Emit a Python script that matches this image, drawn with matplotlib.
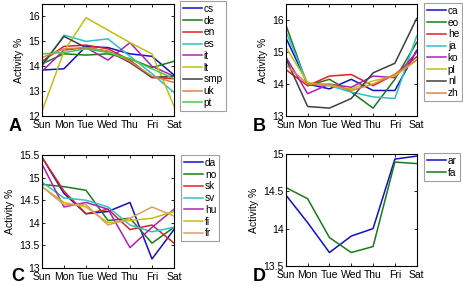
import matplotlib
matplotlib.use("Agg")
import matplotlib.pyplot as plt

plt.rcParams['font.family'] = ['Liberation Sans', 'DejaVu Sans']

days = ["Sun", "Mon", "Tue", "Wed", "Thu", "Fri", "Sat"]

# Panel A
a_labels = ["cs", "de", "en", "es", "it", "lt", "smp", "uk", "pt"]
a_cs = [13.85, 13.9, 14.8, 14.75, 14.5, 14.4, 13.65]
a_de = [14.1, 14.5, 14.45, 14.5, 14.3, 13.95, 14.2]
a_en = [14.2, 14.8, 14.85, 14.7, 14.25, 13.55, 13.5]
a_es = [14.0, 15.25, 15.0, 15.1, 14.4, 13.7, 12.95]
a_it = [13.8, 14.65, 14.75, 14.25, 14.95, 14.0, 13.6]
a_lt = [12.2, 14.6, 15.95, 15.45, 14.95, 14.5, 12.4]
a_smp = [14.05, 15.2, 14.75, 14.6, 14.15, 13.55, 13.6]
a_uk = [14.35, 14.7, 14.75, 14.6, 14.2, 13.6, 13.35]
a_pt = [14.5, 14.55, 14.7, 14.55, 14.3, 13.9, 13.5]

# Panel B
b_labels = ["ca", "eo", "he", "ja", "ko", "pl", "nl", "zh"]
b_ca = [15.45, 14.0, 13.85, 14.15, 13.8, 13.8, 15.05]
b_eo = [15.85, 13.95, 14.15, 13.75, 13.25, 14.15, 15.3]
b_he = [14.45, 13.95, 14.25, 14.3, 13.95, 14.3, 14.85]
b_ja = [15.65, 14.0, 13.95, 13.75, 13.6, 13.55, 15.5]
b_ko = [14.85, 13.7, 14.0, 13.9, 14.25, 14.2, 15.0]
b_pl = [15.15, 14.05, 13.95, 13.85, 14.1, 14.25, 14.75]
b_nl = [14.8, 13.3, 13.25, 13.55, 14.35, 14.65, 16.05]
b_zh = [14.6, 14.0, 14.0, 13.8, 14.0, 14.3, 14.75]

# Panel C
c_labels = ["da", "no", "sk", "sv", "hu", "fi", "fr"]
c_da = [15.45, 14.65, 14.2, 14.25, 14.45, 13.2, 13.85]
c_no = [14.85, 14.8, 14.72, 14.05, 14.1, 13.55, 13.9]
c_sk = [15.45, 14.7, 14.2, 14.3, 13.85, 13.95, 13.55]
c_sv = [14.9, 14.55, 14.5, 14.35, 13.95, 13.8, 13.9]
c_hu = [15.3, 14.35, 14.45, 14.3, 13.45, 13.9, 14.3]
c_fi = [14.8, 14.45, 14.35, 14.0, 14.05, 14.1, 14.25]
c_fr = [14.8, 14.4, 14.4, 13.95, 14.1, 14.35, 14.15]

# Panel D
d_labels = ["ar", "fa"]
d_ar = [14.45, 14.08, 13.68, 13.9, 14.0, 14.93, 14.97]
d_fa = [14.55, 14.4, 13.88, 13.68, 13.76, 14.89, 14.87]

blue = "#1010c8"
green = "#1a7a1a"
red = "#e02020"
cyan = "#30c0c8"
magenta = "#b020b8"
yellow = "#c0c010"
dark = "#404040"
orange = "#e08040"
lgreen = "#40d040"
tan = "#d8a060"

panels = [
    dict(pos=[0.0905, 0.594, 0.2845, 0.392], series=[a_cs, a_de, a_en, a_es, a_it, a_lt, a_smp, a_uk, a_pt],
         labels=a_labels, colors=[blue, green, red, cyan, magenta, yellow, dark, orange, lgreen],
         ylim=(12, 16.5), yticks=[12, 13, 14, 15, 16], leg=(180/464, 1 - 1/286), letter="A", lpos=(9, 131)),
    dict(pos=[0.616, 0.594, 0.282, 0.392], series=[b_ca, b_eo, b_he, b_ja, b_ko, b_pl, b_nl, b_zh],
         labels=b_labels, colors=[blue, green, red, cyan, magenta, yellow, dark, orange],
         ylim=(13, 16.5), yticks=[13, 14, 15, 16], leg=(424/464, 1 - 3/286), letter="B", lpos=(253, 131)),
    dict(pos=[0.0905, 0.063, 0.2845, 0.395], series=[c_da, c_no, c_sk, c_sv, c_hu, c_fi, c_fr],
         labels=c_labels, colors=[blue, green, red, cyan, magenta, yellow, tan],
         ylim=(13, 15.5), yticks=[13, 13.5, 14, 14.5, 15, 15.5], leg=(181/464, 1 - 155/286), letter="C", lpos=(11, 281)),
    dict(pos=[0.616, 0.07, 0.282, 0.392], series=[d_ar, d_fa],
         labels=d_labels, colors=[blue, green],
         ylim=(13.5, 15), yticks=[13.5, 14, 14.5, 15], leg=(424/464, 1 - 153/286), letter="D", lpos=(253, 281)),
]

fig = plt.figure(figsize=(4.64, 2.86), dpi=100)
x = list(range(len(days)))
for p in panels:
    ax = fig.add_axes(p["pos"])
    for s, lab, col in zip(p["series"], p["labels"], p["colors"]):
        ax.plot(x, s, color=col, lw=1.1, label=lab)
    ax.set_xlim(0, 6)
    ax.set_ylim(*p["ylim"])
    ax.set_yticks(p["yticks"])
    ax.set_yticklabels([("%g" % v) for v in p["yticks"]])
    ax.set_xticks(x)
    ax.set_xticklabels(days)
    ax.tick_params(direction="in", length=2.5, labelsize=7.5, pad=1.5, top=True, right=True, width=0.6)
    ax.tick_params(axis="x", pad=2.8)
    for sp in ax.spines.values():
        sp.set_linewidth(0.8)
    ax.set_ylabel("Activity %", fontsize=7.5, labelpad=3)
    leg = ax.legend(loc="upper left", bbox_to_anchor=p["leg"], bbox_transform=fig.transFigure,
                    fontsize=7.3, frameon=True, fancybox=False, borderpad=0.3, labelspacing=0.17,
                    handlelength=1.9, handletextpad=0.15, borderaxespad=0)
    leg.get_frame().set_edgecolor("#888888")
    leg.get_frame().set_linewidth(0.8)
    fig.text(p["lpos"][0] / 464, 1 - p["lpos"][1] / 286, p["letter"], fontsize=13, fontweight="bold",
             ha="left", va="baseline")

fig.savefig("out.png", dpi=100)
